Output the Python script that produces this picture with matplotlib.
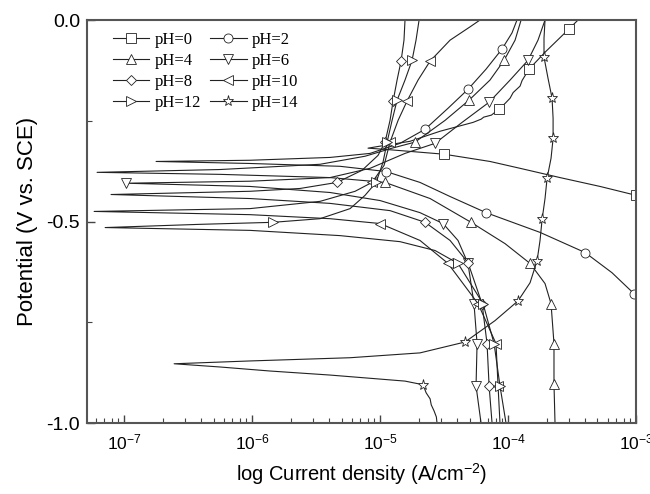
import numpy as np
import matplotlib.pyplot as plt
from matplotlib.ticker import MultipleLocator, LogLocator, NullFormatter

plt.rcParams['font.family'] = ['Liberation Sans', 'DejaVu Sans']
plt.rcParams['mathtext.fontset'] = 'custom'
plt.rcParams['mathtext.rm'] = 'Liberation Sans'
plt.rcParams['mathtext.default'] = 'regular'

# potentiodynamic scans, cathodic -> anodic
# potential in V vs. SCE, current density as log10(A/cm2), marks = indices carrying a symbol
ph0_e = [-0.473, -0.435, -0.413, -0.391, -0.368, -0.351, -0.333, -0.326, -0.321, -0.318, -0.313,
         -0.301, -0.276, -0.254, -0.246, -0.241, -0.236, -0.221, -0.206, -0.194, -0.180, -0.164,
         -0.150, -0.122, -0.080, -0.022, 0.0]
ph0_logi = [-2.578, -3.0, -3.281, -3.594, -3.906, -4.141, -4.5, -4.766, -4.961, -5.094, -5.0,
            -4.766, -4.531, -4.273, -4.21, -4.19, -4.13, -4.070, -4.02, -3.984, -3.96, -3.906,
            -3.89, -3.836, -3.711, -3.523, -3.453]
ph0_marks = [1, 6, 17, 23, 25]

ph2_e = [-0.771, -0.679, -0.627, -0.577, -0.527, -0.478, -0.438, -0.403, -0.376, -0.363, -0.356, -0.351,
         -0.348, -0.341, -0.331, -0.306, -0.271, -0.219, -0.172, -0.122, -0.072, -0.032, 0.0]
ph2_logi = [-2.656, -3.016, -3.188, -3.398, -3.75, -4.172, -4.453, -4.688, -4.953, -5.313, -6.016, -6.75,
            -6.016, -5.391, -5.078, -4.844, -4.648, -4.469, -4.313, -4.172, -4.047, -3.969, -3.930]
ph2_marks = [1, 3, 5, 8, 16, 18, 20]

ph4_e = [-1.0, -0.903, -0.803, -0.704, -0.654, -0.604, -0.555, -0.502, -0.443, -0.403, -0.391, -0.383,
         -0.378, -0.371, -0.358, -0.338, -0.318, -0.303, -0.249, -0.199, -0.149, -0.100, -0.050, 0.0]
ph4_logi = [-3.633, -3.641, -3.641, -3.664, -3.711, -3.828, -4.023, -4.289, -4.609, -4.961, -5.391, -6.25,
            -7.211, -6.25, -5.469, -5.117, -4.906, -4.727, -4.492, -4.305, -4.141, -4.031, -3.945, -3.898]
ph4_marks = [1, 2, 3, 5, 7, 9, 17, 19, 21]

ph6_e = [-1.0, -0.908, -0.803, -0.704, -0.604, -0.547, -0.505, -0.478, -0.448, -0.428, -0.413, -0.405,
         -0.400, -0.391, -0.368, -0.331, -0.306, -0.254, -0.204, -0.149, -0.100, -0.050, 0.0]
ph6_logi = [-4.211, -4.25, -4.242, -4.266, -4.313, -4.391, -4.508, -4.688, -5.0, -5.391, -6.016, -6.984,
            -6.016, -5.391, -5.078, -4.805, -4.570, -4.359, -4.148, -3.984, -3.844, -3.766, -3.711]
ph6_marks = [1, 2, 3, 4, 6, 11, 16, 18, 20]

ph8_e = [-1.0, -0.908, -0.803, -0.704, -0.602, -0.547, -0.502, -0.473, -0.455, -0.443, -0.433,
         -0.425, -0.418, -0.403, -0.373, -0.336, -0.303, -0.249, -0.201, -0.149, -0.102, -0.050, 0.0]
ph8_logi = [-4.125, -4.148, -4.164, -4.203, -4.313, -4.453, -4.648, -4.922, -5.391, -6.016, -7.102,
            -6.016, -5.625, -5.336, -5.141, -5.016, -4.961, -4.922, -4.898, -4.867, -4.836, -4.813, -4.805]
ph8_marks = [1, 2, 3, 4, 6, 13, 16, 18, 20]

ph10_e = [-1.0, -0.908, -0.803, -0.704, -0.604, -0.547, -0.505, -0.493, -0.483, -0.475, -0.468,
          -0.450, -0.425, -0.403, -0.361, -0.303, -0.249, -0.201, -0.149, -0.102, -0.050, -0.017, 0.0]
ph10_logi = [-4.063, -4.078, -4.094, -4.234, -4.469, -4.688, -5.0, -5.391, -6.016, -7.234, -6.016,
             -5.469, -5.195, -5.063, -4.969, -4.922, -4.859, -4.789, -4.703, -4.609, -4.453, -4.297, -4.219]
ph10_marks = [1, 2, 3, 4, 6, 13, 15, 17, 19]

ph12_e = [-1.0, -0.908, -0.803, -0.704, -0.604, -0.572, -0.550, -0.535, -0.522, -0.515, -0.507, -0.502,
          -0.493, -0.468, -0.435, -0.403, -0.353, -0.303, -0.249, -0.199, -0.149, -0.100, -0.050, 0.0]
ph12_logi = [-4.016, -4.063, -4.109, -4.195, -4.391, -4.570, -4.844, -5.313, -6.016, -7.148, -6.406, -5.836,
             -5.469, -5.234, -5.117, -5.031, -4.977, -4.945, -4.906, -4.867, -4.805, -4.75, -4.719, -4.695]
ph12_marks = [1, 2, 3, 4, 11, 15, 17, 19, 21]

ph14_e = [-1.0, -0.985, -0.970, -0.955, -0.940, -0.925, -0.905, -0.896, -0.891, -0.881, -0.871, -0.861,
          -0.853, -0.846, -0.838, -0.826, -0.799, -0.746, -0.697, -0.652, -0.597, -0.547, -0.495, -0.443,
          -0.393, -0.343, -0.294, -0.244, -0.194, -0.144, -0.092, -0.045, 0.0]
ph14_logi = [-4.555, -4.56, -4.578, -4.60, -4.609, -4.64, -4.664, -4.805, -5.0, -5.391, -5.859, -6.25,
             -6.609, -6.016, -5.234, -4.688, -4.336, -4.102, -3.922, -3.828, -3.773, -3.75, -3.734, -3.711,
             -3.695, -3.664, -3.648, -3.648, -3.656, -3.688, -3.719, -3.719, -3.711]
ph14_marks = [6, 16, 18, 20, 22, 24, 26, 28, 30]

curves = [
    ('pH=0', ph0_e, ph0_logi, ph0_marks, 's'),
    ('pH=2', ph2_e, ph2_logi, ph2_marks, 'o'),
    ('pH=4', ph4_e, ph4_logi, ph4_marks, '^'),
    ('pH=6', ph6_e, ph6_logi, ph6_marks, 'v'),
    ('pH=8', ph8_e, ph8_logi, ph8_marks, 'D'),
    ('pH=10', ph10_e, ph10_logi, ph10_marks, '<'),
    ('pH=12', ph12_e, ph12_logi, ph12_marks, '>'),
    ('pH=14', ph14_e, ph14_logi, ph14_marks, '*'),
]

fig = plt.figure(figsize=(6.5, 4.94), dpi=100)
ax = fig.add_axes([0.1338, 0.1437, 0.8447, 0.8158])

handles = []
for label, e, logi, marks, m in curves:
    ms = 6.5
    if m == 'D':
        ms = 5.5
    elif m == '*':
        ms = 8
    h, = ax.plot(10 ** np.array(logi), e, color='#222222', lw=0.8, marker=m, markevery=marks,
                 ms=ms, mfc='white', mec='#222222', mew=0.6, label=label)
    handles.append(h)

ax.set_xscale('log')
ax.set_xlim(10 ** -7.29, 1e-3)
ax.set_ylim(-1.0, 0.0)

ax.yaxis.set_major_locator(MultipleLocator(0.5))
ax.yaxis.set_minor_locator(MultipleLocator(0.25))
ax.yaxis.set_major_formatter(plt.FuncFormatter(lambda v, p: '%.1f' % v))
ax.xaxis.set_major_locator(LogLocator(base=10, numticks=10))
ax.xaxis.set_minor_locator(LogLocator(base=10, subs=np.arange(2, 10), numticks=20))
ax.xaxis.set_minor_formatter(NullFormatter())

ax.tick_params(which='both', direction='in', top=False, right=False, color='#444444')
ax.tick_params(which='major', length=6, width=1)
ax.tick_params(which='minor', length=3.5, width=0.8)
ax.tick_params(axis='y', labelsize=14, pad=5)
ax.tick_params(axis='x', labelsize=12.5, pad=7)

for s in ax.spines.values():
    s.set_color('#555555')
    s.set_linewidth(1.5)

ax.set_xlabel('log Current density (A/cm$^{-2}$)', fontsize=14.5, labelpad=6)
ax.set_ylabel('Potential (V vs. SCE)', fontsize=16, labelpad=6)

# legend filled row by row: pH=0 | pH=2, pH=4 | pH=6, ...
order = [0, 2, 4, 6, 1, 3, 5, 7]
ax.legend([handles[i] for i in order], [curves[i][0] for i in order],
          loc='upper left', bbox_to_anchor=(0.047, 0.97), ncol=2, frameon=False,
          prop={'family': 'Liberation Serif', 'size': 12}, handlelength=2.2,
          handletextpad=0.3, columnspacing=0.55, labelspacing=0.3, borderaxespad=0, borderpad=0)

fig.savefig('out.png', dpi=100)
